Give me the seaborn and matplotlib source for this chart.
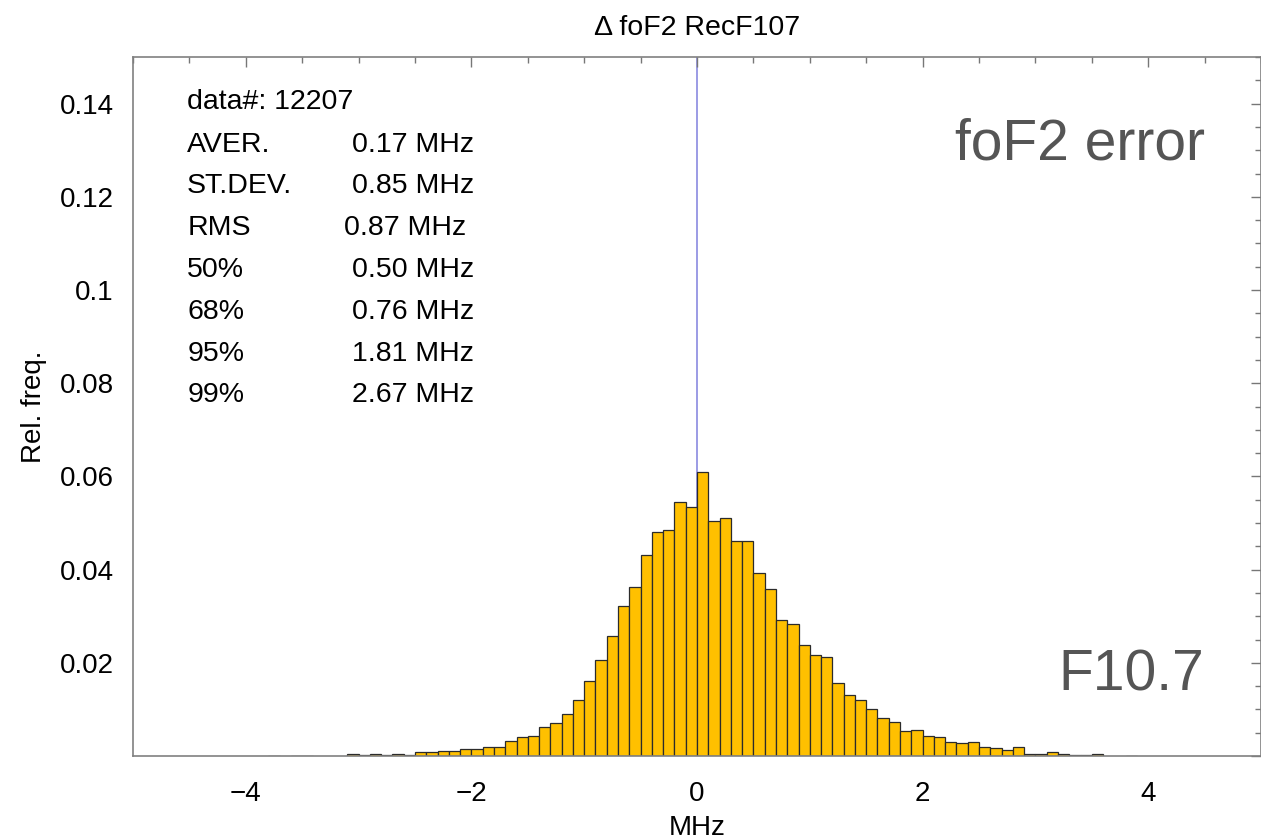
import numpy as np
import pandas as pd
import seaborn as sns
import matplotlib
matplotlib.use("Agg")
import matplotlib.pyplot as plt
from matplotlib.ticker import MultipleLocator, FuncFormatter

# Relative frequency of foF2 error per 0.1 MHz bin (bin left edges from -3.8 to 3.8 MHz)
bin_left = np.round(np.arange(-3.8, 3.85, 0.1), 1)
rel_freq = [
    0.0001, 0.0, 0.0001, 0.0001, 0.0, 0.0, 0.0, 0.0004, 0.0002, 0.0004,
    0.0002, 0.0004, 0.0002, 0.0008, 0.0008, 0.0011, 0.0011, 0.0015, 0.0015, 0.0019,
    0.0019, 0.0032, 0.0041, 0.0043, 0.0063, 0.0070, 0.0090, 0.0121, 0.0161, 0.0205,
    0.0257, 0.0321, 0.0363, 0.0431, 0.0481, 0.0484, 0.0545, 0.0534, 0.0610, 0.0504,
    0.0511, 0.0461, 0.0461, 0.0393, 0.0359, 0.0291, 0.0283, 0.0239, 0.0216, 0.0212,
    0.0156, 0.0131, 0.0121, 0.0100, 0.0081, 0.0074, 0.0054, 0.0056, 0.0043, 0.0040,
    0.0030, 0.0027, 0.0029, 0.0019, 0.0017, 0.0013, 0.0019, 0.0004, 0.0004, 0.0009,
    0.0004, 0.0003, 0.0002, 0.0004, 0.0, 0.0, 0.0001,
]
bin_width = 0.1

stat_names = ["AVER.", "ST.DEV.", "RMS", "50%", "68%", "95%", "99%"]
stat_values = ["0.17 MHz", "0.85 MHz", "0.87 MHz", "0.50 MHz", "0.76 MHz", "1.81 MHz", "2.67 MHz"]
n_data = 12207

title = "Δ foF2 RecF107"
x_label = "MHz"
y_label = "Rel. freq."
tag_top = "foF2 error"
tag_bottom = "F10.7"

sns.set_theme(style="white")
plt.rcParams["font.family"] = ["Liberation Sans", "DejaVu Sans"]
plt.rcParams["text.color"] = "black"
plt.rcParams["axes.labelcolor"] = "black"

df = pd.DataFrame({"center": bin_left + bin_width / 2, "freq": rel_freq})

fig = plt.figure(figsize=(12.61, 8.40), dpi=100)
ax = fig.add_axes([133 / 1261, 84 / 840, 1128 / 1261, 699 / 840])

ax.axvline(0, color="#8a8ae0", lw=1.2, zorder=0.5)
sns.histplot(data=df, x="center", weights="freq", binwidth=bin_width,
             binrange=(bin_left[0], bin_left[-1] + bin_width), stat="count",
             color="#FFC000", alpha=1.0, edgecolor="#2b2b2b", linewidth=0.9, ax=ax)
for p in ax.patches:
    if p.get_height() == 0:
        p.set_visible(False)

ax.set_xlim(-5, 5)
ax.set_ylim(0, 0.15)
ax.xaxis.set_major_locator(MultipleLocator(2))
ax.xaxis.set_minor_locator(MultipleLocator(0.5))
ax.yaxis.set_major_locator(MultipleLocator(0.02))
ax.yaxis.set_minor_locator(MultipleLocator(0.005))
ax.yaxis.set_major_formatter(FuncFormatter(lambda v, _: "" if abs(v) < 1e-9 else f"{v:g}"))
ax.tick_params(which="both", direction="in", top=True, right=True, colors="#777777",
               labelcolor="black", labelsize=20, width=1.0)
ax.tick_params(which="major", length=7)
ax.tick_params(which="minor", length=4)
ax.tick_params(axis="x", which="major", pad=18)
ax.tick_params(axis="y", which="major", pad=14)
for s in ax.spines.values():
    s.set_color("#808080")
    s.set_linewidth(1.2)

ax.set_xlabel(x_label, fontsize=20, labelpad=6)
ax.set_ylabel(y_label, fontsize=20, labelpad=9)
ax.set_title(title, fontsize=20.5, pad=16)

# statistics block
fs = 20.5
ax.text(-4.52, 0.1404, f"data#: {n_data}", fontsize=fs, va="center", ha="left")
row_y = 0.1312
col_end = [-1.98, -1.98, -2.05, -1.98, -1.98, -1.98, -1.98]
for i, (nm, val) in enumerate(zip(stat_names, stat_values)):
    y = row_y - i * 0.00897
    ax.text(-4.52, y, nm, fontsize=fs, va="center", ha="left")
    ax.text(col_end[i], y, val, fontsize=fs, va="center", ha="right")

ax.text(4.5, 0.1312, tag_top, fontsize=41, color="#555555", va="center", ha="right")
ax.text(4.5, 0.0172, tag_bottom, fontsize=41, color="#555555", va="center", ha="right")

fig.savefig("out.png", dpi=100)
